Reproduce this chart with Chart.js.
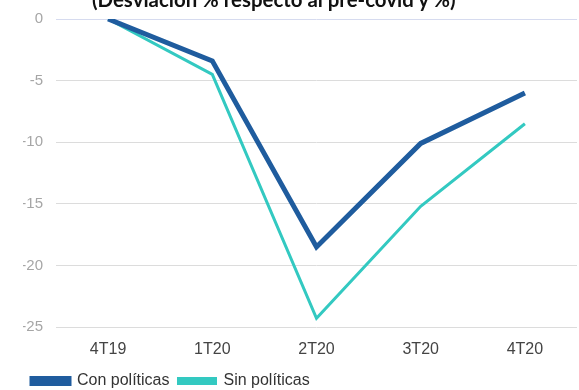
<!DOCTYPE html>
<html>
<head>
<meta charset="utf-8">
<script src="https://cdn.jsdelivr.net/npm/chart.js@4.4.0/dist/chart.umd.min.js"></script>
<style>
    html, body { margin: 0; padding: 0; background: #fff; overflow: hidden; }
    #wrap { position: relative; width: 579px; height: 390px; overflow: hidden; }
    #title {
        position: absolute; left: 92px; top: -11px; line-height: 1;
        font-family: Lato, sans-serif; font-weight: bold; font-size: 20.4px; color: #111;
        white-space: nowrap;
    }
    #chartBox { position: absolute; left: 0; top: -3px; width: 579px; height: 393px; }
</style>
</head>
<body>
<div id="wrap">
    <div id="chartBox"><canvas id="mainChart"></canvas></div>
    <div id="title">(Desviación % respecto al pre-covid y %)</div>
</div>
<script>
// Chart data
const categories = ['4T19', '1T20', '2T20', '3T20', '4T20'];
const conPoliticas = [0, -3.4, -18.5, -10.1, -6.0];
const sinPoliticas = [0, -4.5, -24.3, -15.2, -8.5];
const yTicks = [0, -5, -10, -15, -20, -25];

document.addEventListener('DOMContentLoaded', function() {
    initializeChart();
});

function initializeChart() {
    const ctx = document.getElementById('mainChart');
    if (!ctx) return;

    const font = "'Liberation Sans', Arial, sans-serif";

    new Chart(ctx.getContext('2d'), {
        type: 'line',
        data: {
            labels: categories,
            datasets: [{
                label: 'Con políticas',
                data: conPoliticas,
                borderColor: '#1f5c9e',
                backgroundColor: '#1f5c9e',
                borderWidth: 5,
                pointRadius: 0,
                tension: 0
            }, {
                label: 'Sin políticas',
                data: sinPoliticas,
                borderColor: '#33c9c1',
                backgroundColor: '#33c9c1',
                borderWidth: 3,
                pointRadius: 0,
                tension: 0
            }]
        },
        options: {
            responsive: true,
            maintainAspectRatio: false,
            animation: false,
            layout: {
                padding: { left: 23, right: 2, top: 15, bottom: -9 }
            },
            plugins: {
                legend: {
                    position: 'bottom',
                    align: 'start',
                    labels: {
                        boxWidth: 37,
                        boxHeight: 5,
                        padding: 9,
                        color: '#333',
                        font: { family: font, size: 16 }
                    }
                },
                tooltip: { enabled: false }
            },
            scales: {
                y: {
                    min: -25,
                    max: 0,
                    afterBuildTicks: function(scale) {
                        scale.ticks = yTicks.map(function(v) { return { value: v }; });
                    },
                    afterFit: function(scale) {
                        scale.width = 33;
                    },
                    ticks: {
                        padding: 13,
                        color: '#a6a6a6',
                        font: { family: font, size: 15 }
                    },
                    grid: {
                        drawTicks: false,
                        color: function(c) {
                            return c.tick && c.tick.value === 0 ? '#d6dbef' : '#dcdcdc';
                        }
                    },
                    border: { display: false }
                },
                x: {
                    offset: true,
                    afterFit: function(scale) {
                        scale.height = 37;
                    },
                    ticks: {
                        padding: 13,
                        color: '#444',
                        font: { family: font, size: 16 }
                    },
                    grid: { display: false, drawTicks: false },
                    border: { display: false }
                }
            }
        }
    });
}
</script>
</body>
</html>
